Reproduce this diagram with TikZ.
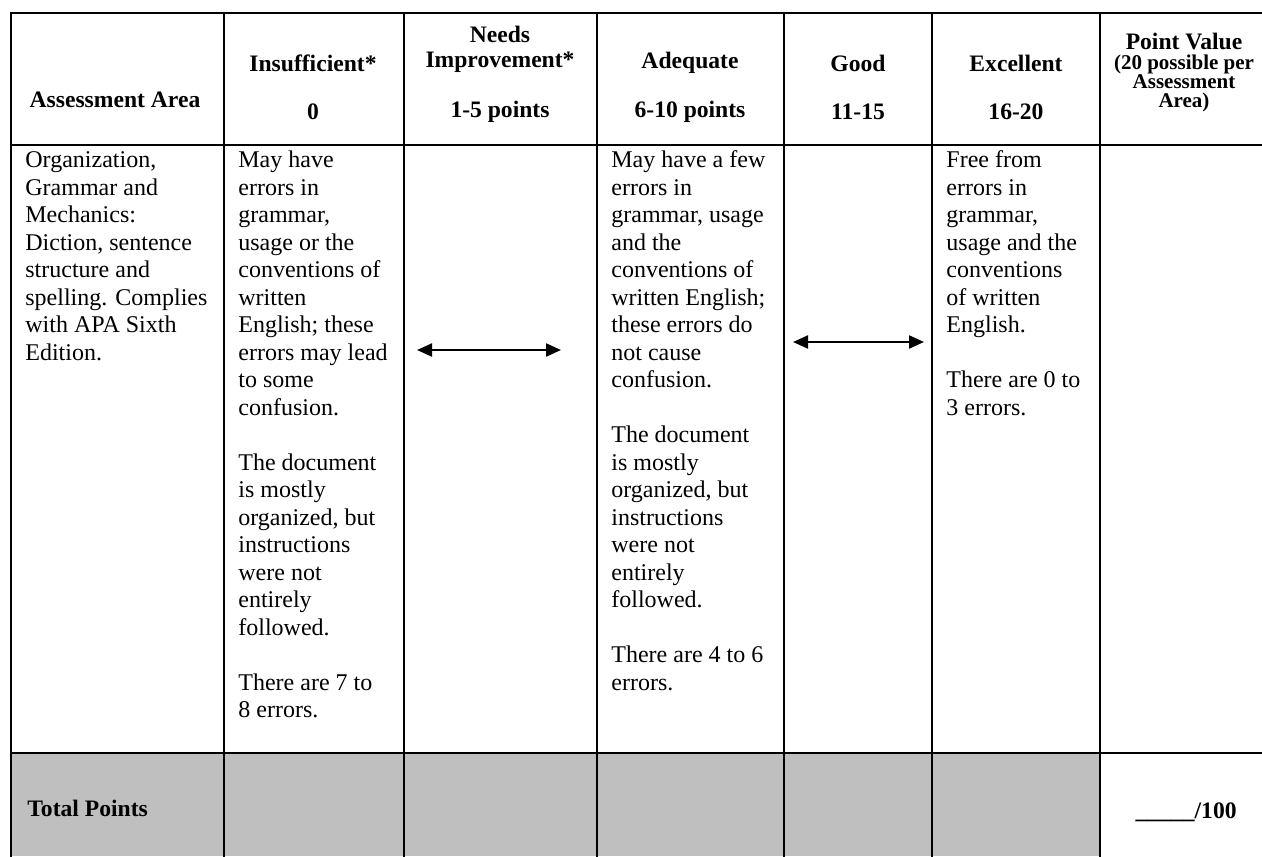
\documentclass[tikz,border=0pt]{standalone}
\usepackage{fontspec}
\setmainfont{Liberation Serif}
\usetikzlibrary{arrows.meta}

\begin{document}
\begin{tikzpicture}[
        x=0.5pt, y=-0.5pt,
        rule/.style={line width=1.3pt, line cap=rect},
        head/.style={inner sep=0pt, align=center, font=\fontsize{11.8}{12.5}\selectfont\bfseries},
        subhead/.style={inner sep=0pt, anchor=base, font=\fontsize{10.5}{10}\selectfont\bfseries},
        cell/.style={anchor=north west, inner sep=0pt, align=left, font=\fontsize{12}{13.75}\selectfont},
        total_row/.style={fill=black!25, draw=none},
        arrow/.style={{Triangle[length=7.5pt, width=6.5pt]}-{Triangle[length=7.5pt, width=6.5pt]}, line width=1.1pt}
    ]
        \useasboundingbox (0,0) rectangle (1262,856);

        % Total points row shading
        \fill[total_row] (11,753) rectangle (1100,856);

        % Table rules
        \draw[rule] (11,13) -- (1262,13);
        \draw[rule] (11,145) -- (1262,145);
        \draw[rule] (11,753) -- (1262,753);
        \draw[rule] (11,13) -- (11,856);
        \draw[rule] (224,13) -- (224,856);
        \draw[rule] (404,13) -- (404,856);
        \draw[rule] (597,13) -- (597,856);
        \draw[rule] (784,13) -- (784,856);
        \draw[rule] (932,13) -- (932,856);
        \draw[rule] (1100,13) -- (1100,856);

        % Header row
        \node[head] (area_head) at (115,100) {Assessment Area};
        \node[head] (insuf_head) at (313,63) {Insufficient*};
        \node[head] (insuf_pts) at (313,112) {0};
        \node[head] (needs_head) at (500,49) {Needs\\Improvement*};
        \node[head] (needs_pts) at (500,112) {1-5 points};
        \node[head] (adeq_head) at (690,63) {Adequate};
        \node[head] (adeq_pts) at (690,112) {6-10 points};
        \node[head] (good_head) at (858,63) {Good};
        \node[head] (good_pts) at (858,112) {11-15};
        \node[head] (excel_head) at (1016,63) {Excellent};
        \node[head] (excel_pts) at (1016,112) {16-20};

        % Point value header
        \node[subhead, font=\fontsize{11.8}{11.8}\selectfont\bfseries] (value_head) at (1184,50) {Point Value};
        \node[subhead] (value_sub_a) at (1184,70) {(20 possible per};
        \node[subhead] (value_sub_b) at (1184,89) {Assessment};
        \node[subhead] (value_sub_c) at (1184,108) {Area)};

        % Assessment area
        \node[cell] (area_text) at (25,148) {\strut Organization,\\Grammar and\\Mechanics:\\Diction, sentence\\structure and\\spelling. Complies\\with APA Sixth\\Edition.};

        % Insufficient
        \node[cell] (insuf_text) at (238,148) {\strut May have\\errors in\\grammar,\\usage or the\\conventions of\\written\\English; these\\errors may lead\\to some\\confusion.\\[13.75pt]The document\\is mostly\\organized, but\\instructions\\were not\\entirely\\followed.\\[13.75pt]There are 7 to\\8 errors.};

        % Adequate
        \node[cell] (adeq_text) at (611,148) {\strut May have a few\\errors in\\grammar, usage\\and the\\conventions of\\written English;\\these errors do\\not cause\\confusion.\\[13.75pt]The document\\is mostly\\organized, but\\instructions\\were not\\entirely\\followed.\\[13.75pt]There are 4 to 6\\errors.};

        % Excellent
        \node[cell] (excel_text) at (946,148) {\strut Free from\\errors in\\grammar,\\usage and the\\conventions\\of written\\English.\\[13.75pt]There are 0 to\\3 errors.};

        % Range arrows
        \coordinate (needs_left) at (417,350);
        \coordinate (needs_right) at (561,350);
        \coordinate (good_left) at (793,342);
        \coordinate (good_right) at (924,342);
        \draw[arrow] (needs_left) -- (needs_right);
        \draw[arrow] (good_left) -- (good_right);

        % Total points row
        \node[head, anchor=west] (total_label) at (27,808) {Total Points};
        \node[head, anchor=east] (total_value) at (1237,812) {\_\_\_\_\_/100};

    \end{tikzpicture}
\end{document}
